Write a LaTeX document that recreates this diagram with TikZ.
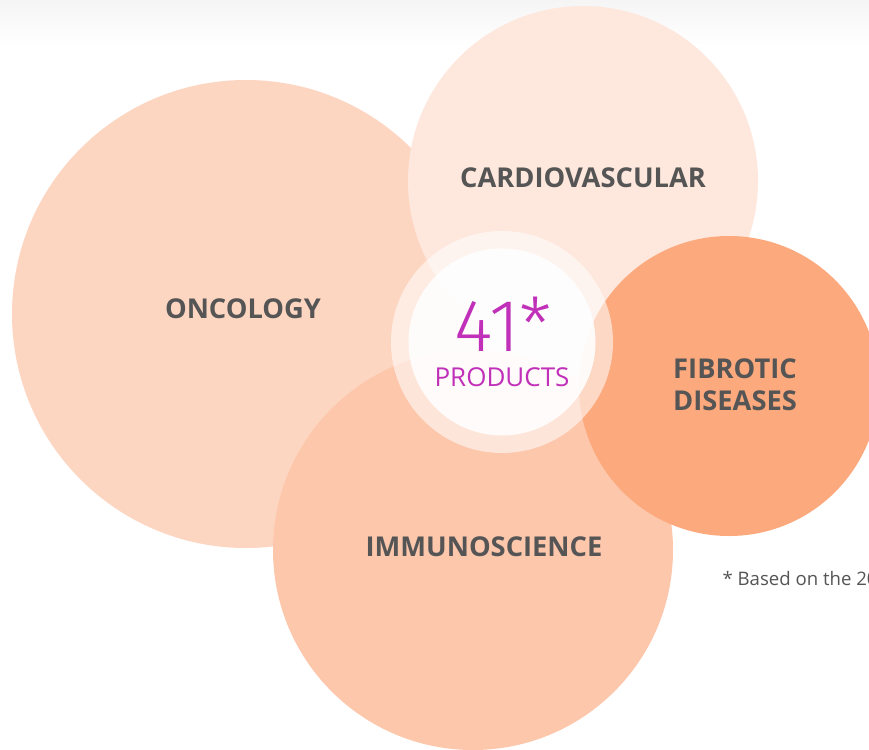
\documentclass[tikz,border=0pt]{standalone}
\usepackage{fontspec}
\setmainfont{Open Sans}
\newfontfamily\lightfont{Fira Sans Light}
\definecolor{onco}{HTML}{FDD6C2}
\definecolor{cardio}{HTML}{FEE7DC}
\definecolor{immuno}{HTML}{FDC7AC}
\definecolor{fibro}{HTML}{FCA97D}
\definecolor{labgray}{HTML}{555555}
\definecolor{magenta}{HTML}{C030B8}
\definecolor{band}{HTML}{F6F5F5}
\tikzset{
  bubble/.style={circle,inner sep=0pt,minimum size=#1},
  lab/.style={font=\bfseries\fontsize{27.3}{32}\selectfont,text=labgray,align=center},
}
\begin{document}
\begin{tikzpicture}[x=1pt,y=-1pt]
\useasboundingbox (0,0) rectangle (869,749);
\fill[white] (0,0) rectangle (869,749);
\shade[top color=band,bottom color=white] (0,0) rectangle (869,46);
\coordinate (mid) at (502,342);
\fill[cardio] (mid) circle[radius=105];
\node[bubble=468,fill=onco] (onco) at (246,314) {};
\node[bubble=350,fill=cardio] (cardio) at (583,181) {};
\node[bubble=400,fill=immuno] (immuno) at (473,550) {};
\node[bubble=300,fill=fibro] (fibro) at (729,386) {};
\fill[white,opacity=0.55] (mid) circle[radius=111];
\fill[white,opacity=0.88] (mid) circle[radius=93.5];
\node[lab] (tonco) at (243,309) {ONCOLOGY};
\node[lab] (tcardio) at (583,178) {CARDIOVASCULAR};
\node[lab] (timmuno) at (484,547) {IMMUNOSCIENCE};
\node[lab] (tfibro) at (735,385) {FIBROTIC\\DISEASES};
\node[font=\lightfont\fontsize{74}{74}\selectfont,text=magenta,inner sep=0pt,text height=53pt,text depth=0pt] (num) at (503,324.5) {41*};
\node[font=\fontsize{26}{28}\selectfont,text=magenta,inner sep=0pt] (prod) at (502,377) {PRODUCTS};
\node[font=\fontsize{18.6}{20}\selectfont,text=labgray,anchor=west] (foot) at (719,579) {* Based on the 2019};
\end{tikzpicture}
\end{document}
